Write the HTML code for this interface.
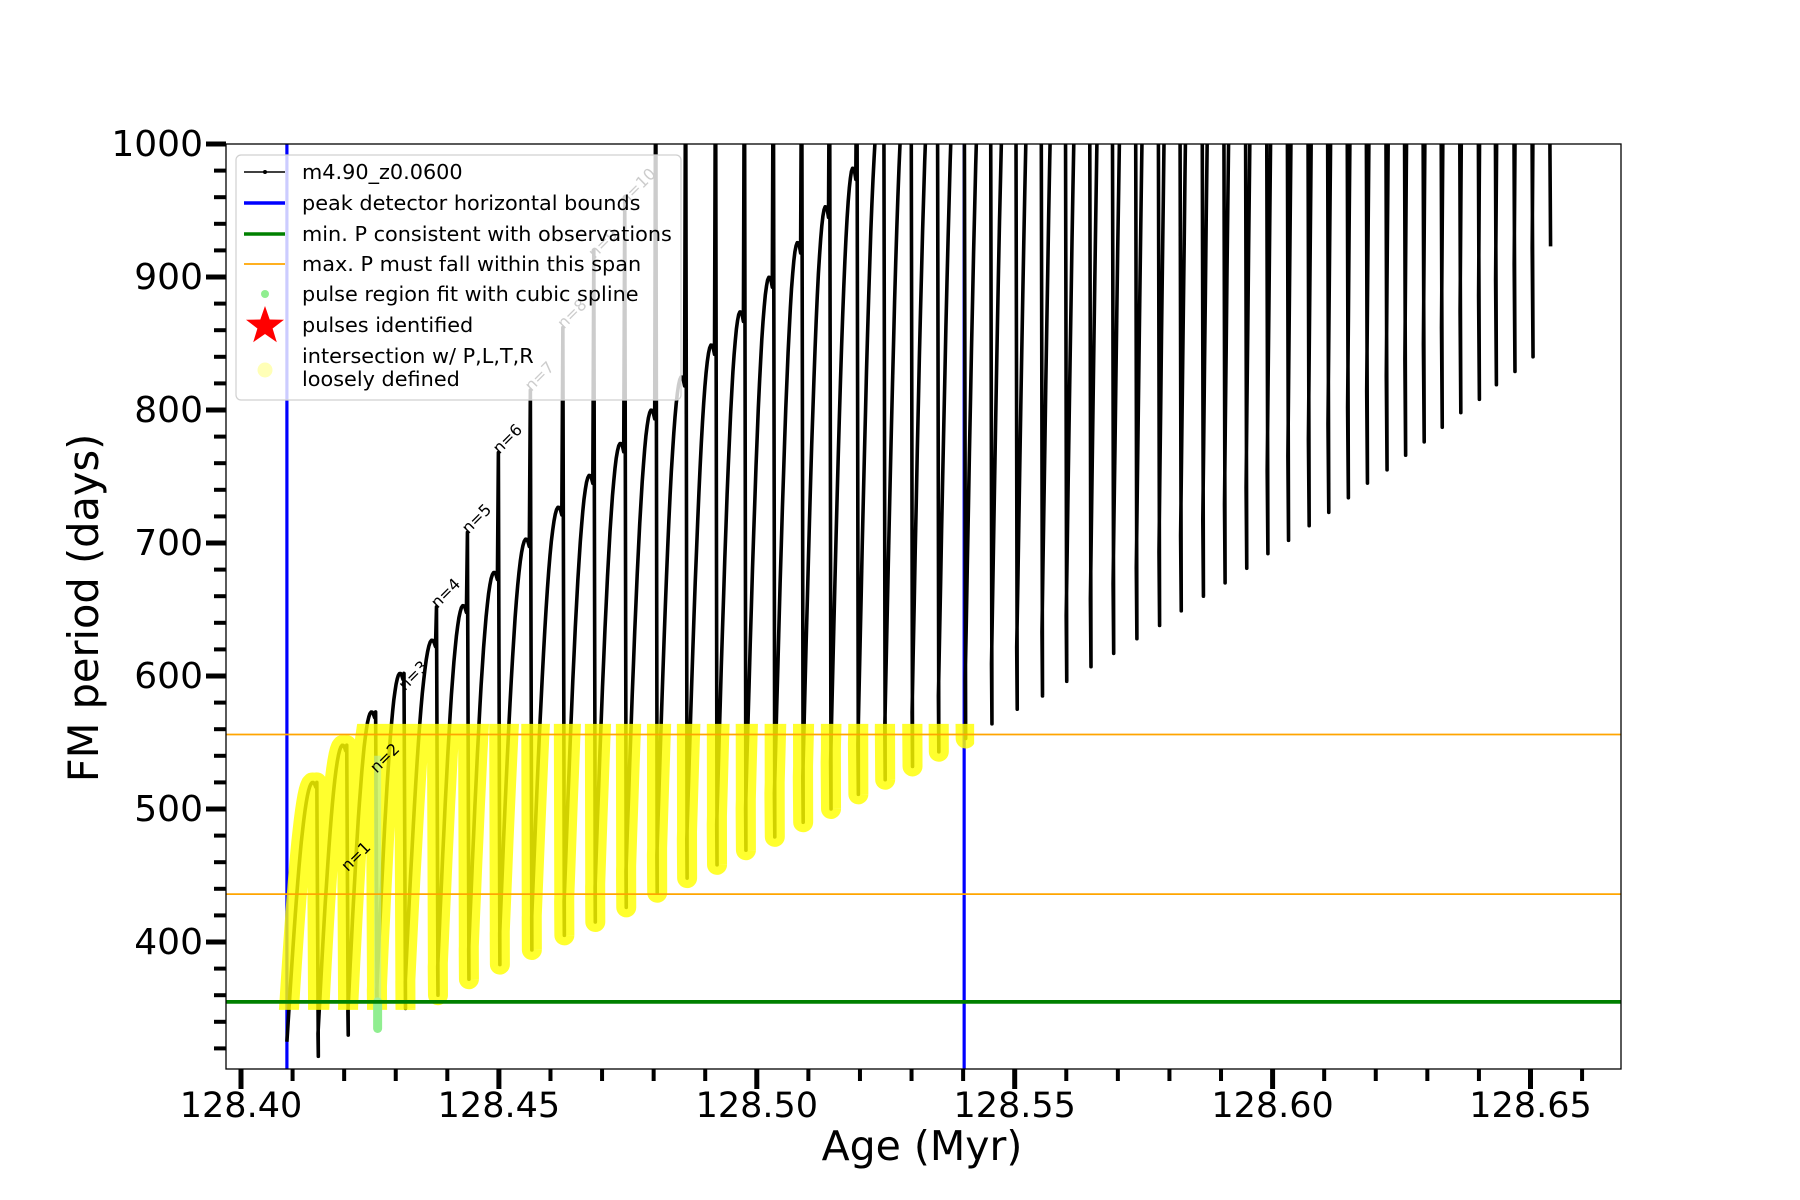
<!DOCTYPE html>
<html><head><meta charset="utf-8"><style>
html,body{margin:0;padding:0;background:#fff;}
svg{display:block;font-family:"DejaVu Sans","Liberation Sans",sans-serif;}
</style></head><body>
<svg id="chart" width="1800" height="1200" viewBox="0 0 1800 1200">
<defs>
<clipPath id="axclip"><rect x="226" y="144" width="1395" height="925"/></clipPath>
<clipPath id="yclip"><rect id="yclipRect" x="0" y="0" width="0" height="0"/></clipPath>
</defs>
<g id="plot" clip-path="url(#axclip)"></g>
<g id="axes"></g>
<g id="legend"></g>
</svg>
<script>
// ---- data ----
const pulseAges = [128.4089,128.4147,128.4205,128.4261,128.4316,128.4379,128.4439,128.4499,128.4561,128.4624,128.4684,128.4744,128.4804,128.4862,128.4920,128.4976,128.5032,128.5087,128.5141,128.5194,128.5246,128.5299,128.5350,128.5402,128.5453,128.5502,128.5551,128.5598,128.5645,128.5689,128.5734,128.5778,128.5820,128.5863,128.5905,128.5947,128.5988,128.6028,128.6068,128.6106,128.6144,128.6181,128.6219,128.6255,128.6291,128.6326,128.6362,128.6398,128.6431,128.6467,128.6502,128.6536];
const pulseMins = [325,314,330,345,350,360,372,383,394,405,415,426,437,448,458,469,479,490,500,511,522,532,543,553,564,575,585,596,607,617,628,638,649,660,670,681,692,702,713,723,734,745,755,766,776,787,798,808,819,829,840,923];
const archPeaks = [520,548,573,602,627,653,678,703,727,751,775,800,825,849,874,900,926,953,982,1030,1060,1090,1120,1150,1180,1210,1240,1270,1300,1330,1360,1390,1420,1450,1480,1510,1540,1570,1600,1630,1660,1690,1720,1750,1780,1810,1840,1870,1900,1930,1960];
const spikeTops = [325,520,548,573,602,652,708,768,815,862,920,960,1100,1100,1100,1100,1100,1100,1100,1100,1100,1100,1100,1100,1100,1100,1100,1100,1100,1100,1100,1100,1100,1100,1100,1100,1100,1100,1100,1100,1100,1100,1100,1100,1100,1100,1100,1100,1100,1100,1100,1100];
const nLabels = ["n=1","n=2","n=3","n=4","n=5","n=6","n=7","n=8","n=9","n=10"];
const nLabelVals = [454,528,590,652,708,768,815,862,915,955];
const xTicks = [128.40,128.45,128.50,128.55,128.60,128.65];
const xTickLabels = ["128.40","128.45","128.50","128.55","128.60","128.65"];
const yTicks = [400,500,600,700,800,900,1000];
const yTickLabels = ["400","500","600","700","800","900","1000"];
const boundAges = [128.4089,128.5402];
const minP = 355;
const maxSpan = [436,556];
const splineRange = [335,540];

// ---- scales ----
const X = a => 241 + (a - 128.40) / 0.05 * 257.9;
const Y = v => 942 - (v - 400) * 1.33;
const NS = "http://www.w3.org/2000/svg";
function mk(tag, attrs, parent){const e=document.createElementNS(NS,tag);for(const k in attrs)e.setAttribute(k,attrs[k]);parent.appendChild(e);return e;}
const plot = document.getElementById('plot'), axes = document.getElementById('axes'), legend = document.getElementById('legend');

let d = "";
for (let i=0;i<pulseAges.length;i++){
  const t=pulseAges[i];
  if(i===0){ d += `M${X(t)},${Y(pulseMins[0])}`; }
  else { d += ` L${X(t)},${Y(spikeTops[i])} L${X(t)+1.5},${Y(pulseMins[i])}`; }
  if(i<pulseAges.length-1){
    const t2=pulseAges[i+1], m=pulseMins[i], p=archPeaks[i];
    for(let k=1;k<=24;k++){const u=k/24;const a=t+(t2-t-0.0002)*u;const v=m+(p-m)*Math.sin(u*Math.PI*0.56);d+=` L${X(a).toFixed(1)},${Y(v).toFixed(1)}`;}
  }
}
const b1=mk('line',{x1:X(boundAges[0]),x2:X(boundAges[0]),y1:144,y2:1069,stroke:'#0000ff','stroke-width':3.2},plot);

const b2=mk('line',{x1:X(boundAges[1]),x2:X(boundAges[1]),y1:144,y2:1069,stroke:'#0000ff','stroke-width':3.2},plot);

const ser=mk('path',{d:d,fill:'none',stroke:'#000','stroke-width':3.6,'stroke-linejoin':'round'},plot);

const yc=document.getElementById('yclipRect');
yc.setAttribute('x',X(boundAges[0])-12);yc.setAttribute('width',X(boundAges[1])-X(boundAges[0])+22);
yc.setAttribute('y',Y(maxSpan[1]+2)-8);yc.setAttribute('height',Y(minP)-Y(maxSpan[1]+2)+16);
const yl=mk('path',{d:d,fill:'none',stroke:'#ffff00','stroke-opacity':0.82,'stroke-width':20,'stroke-linejoin':'round','stroke-linecap':'round','clip-path':'url(#yclip)'},plot);

const gp=mk('line',{x1:X(pulseAges[3])+2,x2:X(pulseAges[3])+2,y1:Y(minP),y2:Y(splineRange[0]),stroke:'#90ee90','stroke-width':9,'stroke-linecap':'round'},plot);

const gp2=mk('line',{x1:X(pulseAges[3])+2,x2:X(pulseAges[3])+2,y1:Y(minP),y2:Y(splineRange[1]),stroke:'#b8f0a0','stroke-width':7,'stroke-opacity':0.6},plot);

for(let i=0;i<maxSpan.length;i++){const l=mk('line',{x1:226,x2:1621,y1:Y(maxSpan[i]),y2:Y(maxSpan[i]),stroke:'#ffa500','stroke-width':1.8},plot);
}
const gl=mk('line',{x1:226,x2:1621,y1:Y(minP),y2:Y(minP),stroke:'#008000','stroke-width':3.8},plot);

for(let i=0;i<nLabels.length;i++){
  const lx=X(pulseAges[i+2])+1, ly=Y(nLabelVals[i])+2;
  const tx=mk('text',{x:lx,y:ly,'font-size':16,fill:'#000','text-anchor':'start',transform:`rotate(-45 ${lx} ${ly})`},plot);
  tx.textContent=nLabels[i];
  
}
const fr=mk('rect',{x:226,y:144,width:1395,height:925,fill:'none',stroke:'#000','stroke-width':1.3},axes);

for(let a=128.40;a<=128.665;a+=0.01){const x=X(a);const maj=Math.abs(Math.round(a*100)%5)<0.01;
 mk('line',{x1:x,x2:x,y1:1069,y2:1069+(maj?20:12),stroke:'#000','stroke-width':maj?5:4},axes);}
for(let i=0;i<xTicks.length;i++){const t=mk('text',{x:X(xTicks[i]),y:1117,'font-size':35,'text-anchor':'middle',fill:'#000'},axes);t.textContent=xTickLabels[i];
 }
for(let v=320;v<=1000;v+=20){const y=Y(v);const maj=v%100===0;
 mk('line',{x1:226,x2:226-(maj?20:12),y1:y,y2:y,stroke:'#000','stroke-width':maj?5:4},axes);}
for(let i=0;i<yTicks.length;i++){const t=mk('text',{x:203,y:Y(yTicks[i])+12,'font-size':36,'text-anchor':'end',fill:'#000'},axes);t.textContent=yTickLabels[i];
 }
const xt=mk('text',{x:922,y:1160,'font-size':41,'text-anchor':'middle',fill:'#000'},axes);xt.textContent='Age (Myr)';

const ytt=mk('text',{x:0,y:0,'font-size':41.5,'text-anchor':'middle',fill:'#000',transform:'translate(98,608) rotate(-90)'},axes);ytt.textContent='FM period (days)';

const lb=mk('rect',{x:236,y:155,width:445,height:245,rx:5,fill:'rgba(255,255,255,0.8)',stroke:'#d0d0d0','stroke-width':1.2},legend);

const labels=['m4.90_z0.0600','peak detector horizontal bounds','min. P consistent with observations','max. P must fall within this span','pulse region fit with cubic spline','pulses identified','intersection w/ P,L,T,R','loosely defined'];
const ys=[172,203,234,264,294,325,356,379];
for(let i=0;i<labels.length;i++){const t=mk('text',{x:302,y:ys[i]+7,'font-size':20.8,fill:'#000'},legend);t.textContent=labels[i];
 }
mk('line',{x1:244,x2:285,y1:172,y2:172,stroke:'#000','stroke-width':1.6},legend);
mk('circle',{cx:265,cy:172,r:2,fill:'#000'},legend);
mk('line',{x1:244,x2:285,y1:203,y2:203,stroke:'#0000ff','stroke-width':3.5},legend);
mk('line',{x1:244,x2:285,y1:234,y2:234,stroke:'#008000','stroke-width':3.5},legend);
mk('line',{x1:244,x2:285,y1:264,y2:264,stroke:'#ffa500','stroke-width':1.8},legend);
mk('circle',{cx:265,cy:294,r:4,fill:'#90ee90'},legend);
mk('polygon',{points:"0,-20 4.7,-6.5 19,-6.2 7.6,2.5 11.8,16.2 0,8 -11.8,16.2 -7.6,2.5 -19,-6.2 -4.7,-6.5",fill:'#ff0000',transform:'translate(265,326)'},legend);
mk('circle',{cx:265,cy:370,r:7.5,fill:'#ffffaa','fill-opacity':0.85},legend);
</script>
</body></html>
